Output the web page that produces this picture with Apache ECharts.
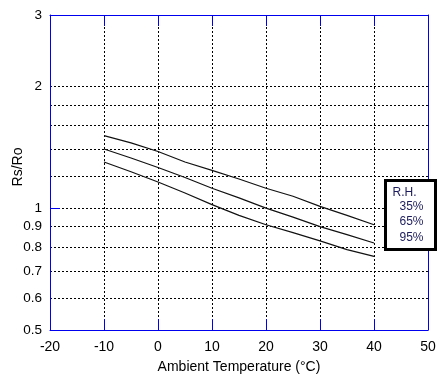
<!DOCTYPE html>
<html>
<head>
<meta charset="utf-8">
<script src="https://cdn.jsdelivr.net/npm/echarts@6/dist/echarts.min.js"></script>
<style>
html,body{margin:0;padding:0;background:#fff;}
#chart{width:447px;height:386px;}
</style>
</head>
<body>
<div id="chart"></div>
<script>
const temps = [-10, -5, 0, 5, 10, 15, 20, 25, 30, 35, 40];
const rh35 = [1.51, 1.45, 1.38, 1.30, 1.24, 1.18, 1.12, 1.07, 1.01, 0.96, 0.91];
const rh65 = [1.40, 1.33, 1.26, 1.19, 1.12, 1.06, 1.00, 0.95, 0.90, 0.86, 0.82];
const rh95 = [1.30, 1.23, 1.16, 1.09, 1.02, 0.96, 0.91, 0.87, 0.83, 0.79, 0.76];
const yLabelValues = [0.5, 0.6, 0.7, 0.8, 0.9, 1, 2, 3];
const yGridValues = [0.6, 0.7, 0.8, 0.9, 1, 1.2, 1.4, 1.6, 1.8, 2];
const yTickValues = [1];
const legendTitle = 'R.H.';
const legendLabels = ['35%', '65%', '95%'];
const xName = 'Ambient Temperature (°C)';
const yName = 'Rs/Ro';

const FONT = 'Liberation Sans, Arial, sans-serif';
const BLUE = '#0000ee';
const LEGEND_TEXT = '#1c1c5c';
const dotted = { color: '#000', width: 1, type: [2, 2] };

function pairs(vals) { return temps.map((t, i) => [t, vals[i]]); }

const chart = echarts.init(document.getElementById('chart'), null, { renderer: 'canvas' });
const lineStyle = { color: '#111', width: 1.2 };
const option = {
  animation: false,
  backgroundColor: '#fff',
  grid: { left: 50, right: 19, top: 15, bottom: 56, containLabel: false },
  xAxis: [
    {
      type: 'value', min: -20, max: 50, interval: 10, position: 'bottom',
      name: xName, nameLocation: 'middle', nameGap: 30,
      nameTextStyle: { color: '#000', fontSize: 14, fontFamily: FONT },
      axisLine: { show: true, onZero: false, lineStyle: { color: BLUE, width: 1 } },
      axisTick: { show: true, inside: true, length: 11, lineStyle: { color: BLUE } },
      axisLabel: { color: '#000', fontSize: 14, fontFamily: FONT, margin: 10 },
      splitLine: { show: true, showMinLine: false, showMaxLine: false, lineStyle: dotted }
    },
    {
      type: 'value', min: -20, max: 50, interval: 10, position: 'top',
      axisLine: { show: true, onZero: false, lineStyle: { color: BLUE, width: 1 } },
      axisTick: { show: true, inside: true, length: 11, lineStyle: { color: BLUE } },
      axisLabel: { show: false },
      splitLine: { show: false }
    }
  ],
  yAxis: [
    {
      type: 'log', logBase: 10, min: 0.5, max: 3, position: 'left',
      axisLine: { show: true, onZero: false, lineStyle: { color: BLUE, width: 1 } },
      axisTick: { show: true, inside: true, length: 10, customValues: yTickValues, lineStyle: { color: BLUE } },
      axisLabel: { color: '#000', fontSize: 13.5, fontFamily: FONT, margin: 8, customValues: yLabelValues },
      splitLine: { show: false },
      minorTick: { show: false }
    },
    {
      type: 'log', logBase: 10, min: 0.5, max: 3, position: 'left',
      axisLine: { show: false },
      axisTick: { show: false, customValues: yGridValues },
      axisLabel: { show: false },
      splitLine: { show: true, lineStyle: dotted }
    },
    {
      type: 'log', logBase: 10, min: 0.5, max: 3, position: 'right',
      axisLine: { show: true, onZero: false, lineStyle: { color: BLUE, width: 1 } },
      axisTick: { show: true, inside: true, length: 10, customValues: yTickValues, lineStyle: { color: BLUE } },
      axisLabel: { show: false },
      splitLine: { show: false }
    }
  ],
  series: [
    { name: legendLabels[0], type: 'line', xAxisIndex: 0, yAxisIndex: 0, data: pairs(rh35), showSymbol: false, symbol: 'none', lineStyle, z: 5 },
    { name: legendLabels[1], type: 'line', xAxisIndex: 0, yAxisIndex: 0, data: pairs(rh65), showSymbol: false, symbol: 'none', lineStyle, z: 5 },
    { name: legendLabels[2], type: 'line', xAxisIndex: 0, yAxisIndex: 0, data: pairs(rh95), showSymbol: false, symbol: 'none', lineStyle, z: 5 }
  ],
  graphic: [
    {
      type: 'text', x: 18, y: 167, rotation: Math.PI / 2, z: 100,
      style: { text: yName, fill: '#000', font: '14px ' + FONT, textAlign: 'center', textVerticalAlign: 'middle' }
    },
    {
      type: 'group', left: 384, top: 179, z: 100,
      children: [
        { type: 'rect', z: 100, shape: { x: 1.5, y: 1.5, width: 50, height: 69 }, style: { fill: '#fff', stroke: '#000', lineWidth: 3 } },
        { type: 'text', z: 101, x: 8.5, y: 13.5, style: { text: legendTitle, fill: LEGEND_TEXT, font: '12px ' + FONT, textVerticalAlign: 'middle' } },
        { type: 'text', z: 101, x: 15.5, y: 28, style: { text: legendLabels[0], fill: LEGEND_TEXT, font: '12px ' + FONT, textVerticalAlign: 'middle' } },
        { type: 'text', z: 101, x: 15.5, y: 43, style: { text: legendLabels[1], fill: LEGEND_TEXT, font: '12px ' + FONT, textVerticalAlign: 'middle' } },
        { type: 'text', z: 101, x: 15.5, y: 58.5, style: { text: legendLabels[2], fill: LEGEND_TEXT, font: '12px ' + FONT, textVerticalAlign: 'middle' } }
      ]
    }
  ]
};
chart.setOption(option);
</script>
</body>
</html>
